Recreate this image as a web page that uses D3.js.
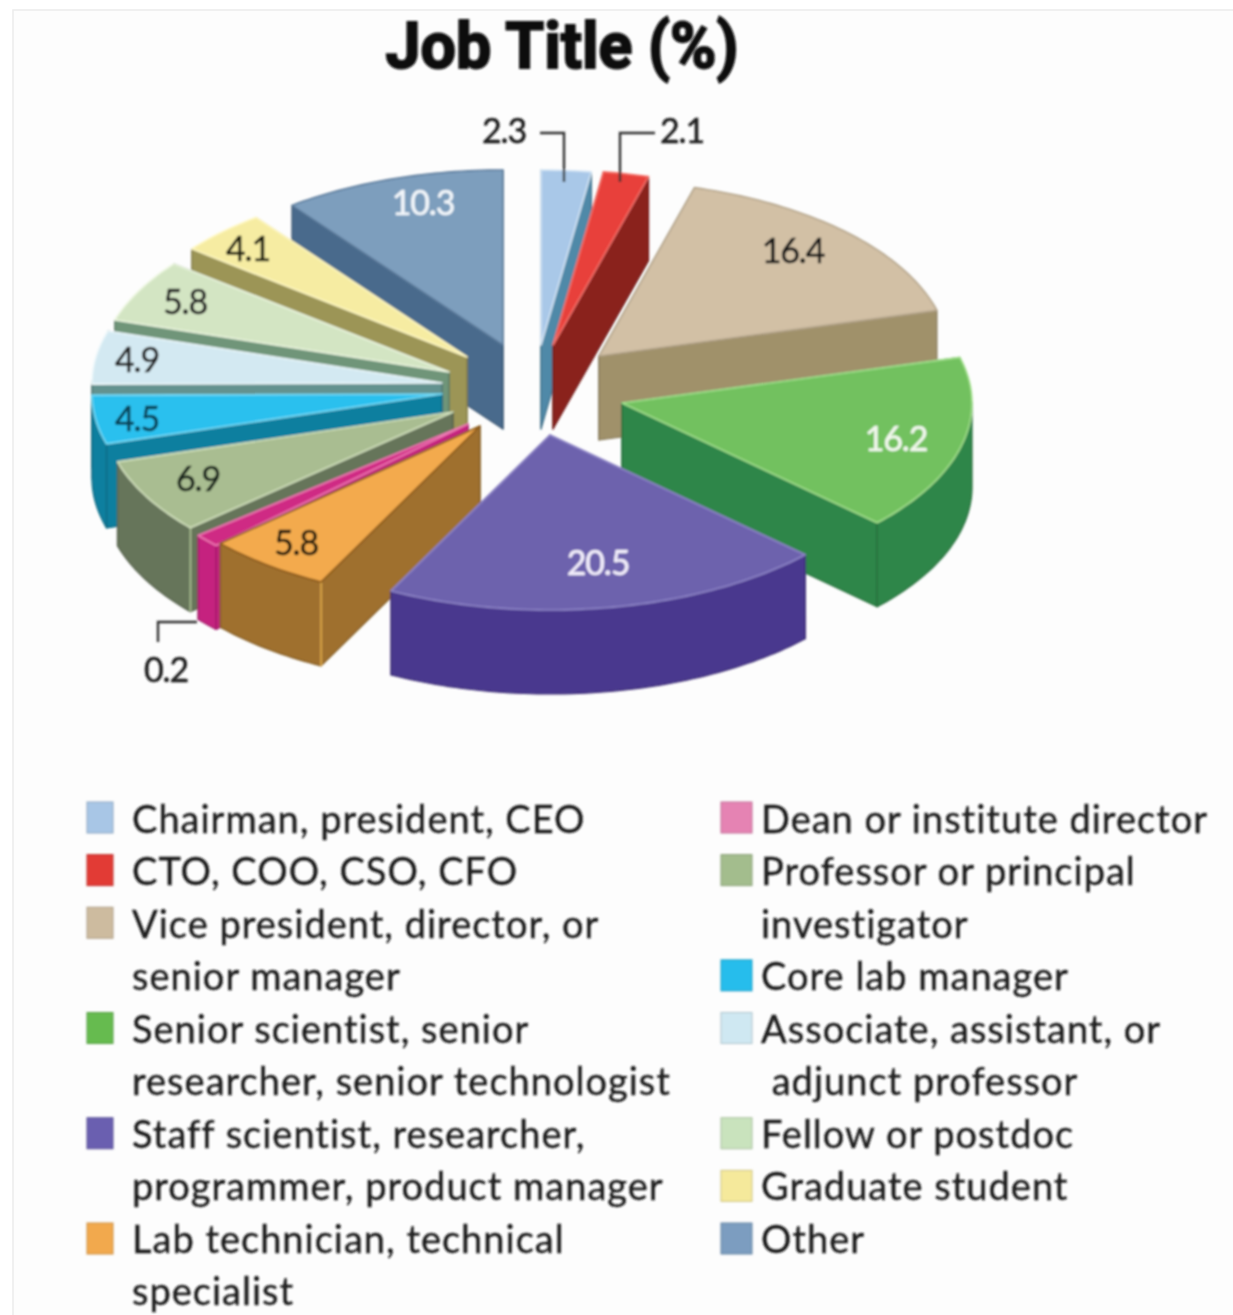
<!DOCTYPE html>
<html><head><meta charset="utf-8">
<script src="https://cdnjs.cloudflare.com/ajax/libs/d3/7.9.0/d3.min.js"></script>
<style>html,body{margin:0;padding:0;background:#fff}svg{display:block}</style>
</head><body><svg id="c" width="1233" height="1315"></svg>
<script>
const titleText = "Job Title (%)";
const categories = [
  ["Chairman, president, CEO"],
  ["CTO, COO, CSO, CFO"],
  ["Vice president, director, or","senior manager"],
  ["Senior scientist, senior","researcher, senior technologist"],
  ["Staff scientist, researcher,","programmer, product manager"],
  ["Lab technician, technical","specialist"],
  ["Dean or institute director"],
  ["Professor or principal","investigator"],
  ["Core lab manager"],
  ["Associate, assistant, or","\u00a0adjunct professor"],
  ["Fellow or postdoc"],
  ["Graduate student"],
  ["Other"]
];
const values = [2.3,2.1,16.4,16.2,20.5,5.8,0.2,6.9,4.5,4.9,5.8,4.1,10.3];
const topColors  = ["#a9c8e8","#e8413a","#d2c0a5","#72c15f","#6d62ad","#f3aa4d","#cf2a84","#a9bd91","#2cc0ee","#d3e9f2","#d3e5c3","#f6eca2","#7d9ebd"];
const sideColors = ["#4f89a8","#8a201c","#a0916a","#2f8648","#4a398e","#9f702d","#c5217f","#66755a","#0b7f9f","#64928f","#6f9579","#9c9556","#4a6a8c"];
const edgeColors = ["#d6e6f5","#f4716a","#b5a68d","#a4e08f","#8f86c8","#8d5a1c","#f07ab5","#d3e2bf","#7adcf6","#eef8fb","#eef7e2","#fff8c4","#5d7c9c"];
const swatchColors = ["#a8c6e6","#e23a36","#cdbb9f","#66bb50","#6a5fb0","#f2a94e","#e583b3","#a3bd8d","#27bdec","#cfe8f2","#c9e3bd","#f5e99b","#7b9dc0"];
const labelFill = ["#1c1c1c","#1c1c1c","#141414","#f2f8ee","#f2eefb","#241a0c","#1c1c1c","#18241a","#0b4257","#222","#222","#1c1c0c","#f2f6fa"];

// layout: where each wedge is pulled to, and its label relative to that point
const explodeX = [541,553,599,622,550,480,468,453,442,442,449,467,503];
const explodeY = [345,345,356,403,435,426,424,412,394,383,372,357,345];
const labelDX  = [-37,129,194,274,48,-184,-302,-255,-305,-305,-264,-219,-80];
const labelDY  = [-214,-214,-105,36,128,117,246,67,25,-23,-70,-108,-142];
const leaders  = {0:[[-1,-212],[23,-212],[23,-163]],1:[[102,-212],[67,-212],[67,-163]],6:[[-271,198],[-310,198],[-310,218]]};
const litCorners = [5,7];
const RX = 350, RY = 175, DEPTH = 84, MIN_SPAN = 4.4*Math.PI/180;

const svg = d3.select("#c");
const defs = svg.append("defs");
defs.append("filter").attr("id","soft").attr("filterUnits","userSpaceOnUse").attr("x",0).attr("y",0).attr("width",1233).attr("height",1315)
  .append("feGaussianBlur").attr("stdDeviation",0.9);

svg.append("rect").attr("width",1233).attr("height",1315).attr("fill","#fff");
svg.append("rect").attr("x",13).attr("y",10).attr("width",1240).attr("height",1330).attr("fill","#fdfdfd").attr("stroke","#ececec").attr("stroke-width",1.5);

const root = svg.append("g").attr("filter","url(#soft)");
const ux = d3.scaleLinear().domain([-1,1]).range([-RX,RX]);
const uy = d3.scaleLinear().domain([-1,1]).range([-RY,RY]);
const line = d3.line();

const arcs = d3.pie().sort(null)(values);
const slices = arcs.map(a=>{
  const i=a.index, mid=(a.startAngle+a.endAngle)/2;
  const half=Math.max((a.endAngle-a.startAngle)/2,MIN_SPAN/2);
  const a0=mid-half, a1=mid+half;
  const ax=explodeX[i], ay=explodeY[i];
  const pt=t=>[ax+ux(Math.sin(t)),ay+uy(-Math.cos(t))];
  const n=Math.max(2,Math.ceil((a1-a0)/0.02));
  const angles=d3.range(n+1).map(k=>a0+(a1-a0)*k/n);
  return {i,mid,a0,a1,ax,ay,pt,rim:angles.map(pt),front:angles.filter(t=>Math.cos(t)<=0.02).map(pt),order:pt(mid)[1]};
}).sort((p,q)=>d3.ascending(p.order,q.order));

const down=p=>[p[0],p[1]+DEPTH];
slices.forEach(s=>{
  const g=root.append("g");
  const c0=s.rim[0], c1=s.rim[s.rim.length-1], apex=[s.ax,s.ay];
  const onLeft=Math.sin(s.mid)<0;
  const hiddenEnd=onLeft?c1:c0, shownEnd=onLeft?c0:c1;
  const side=(pts)=>g.append("path").attr("d",line(pts)+"Z").attr("fill",sideColors[s.i])
    .attr("stroke",d3.color(sideColors[s.i]).darker(0.6)).attr("stroke-width",1.2).attr("stroke-linejoin","round");
  side([apex,hiddenEnd,down(hiddenEnd),down(apex)]);
  side([apex,shownEnd,down(shownEnd),down(apex)]);
  if(s.front.length>1) side(s.front.concat(s.front.slice().reverse().map(down)));
  if(litCorners.includes(s.i)){
    g.append("path").attr("d",line([shownEnd,down(shownEnd)])).attr("stroke",d3.color(topColors[s.i]).brighter(0.4)).attr("stroke-width",1.5).attr("opacity",0.85);
  }
  g.append("path").attr("d",line([apex].concat(s.rim))+"Z").attr("fill",topColors[s.i])
    .attr("stroke",edgeColors[s.i]).attr("stroke-width",1.6).attr("stroke-linejoin","round");
});

// leaders and value labels
const fmt=d3.format(".1f");
arcs.forEach(a=>{
  const i=a.index, ax=explodeX[i], ay=explodeY[i];
  if(leaders[i]) root.append("path")
    .attr("d",line(leaders[i].map(d=>[ax+d[0],ay+d[1]]))).attr("fill","none").attr("stroke","#333").attr("stroke-width",2.4);
  root.append("text").attr("x",ax+labelDX[i]).attr("y",ay+labelDY[i]).attr("dy","0.36em")
    .attr("text-anchor","middle").attr("font-family","Lato, sans-serif").attr("font-size",34)
    .attr("letter-spacing",-1.2).attr("fill",labelFill[i]).attr("stroke",labelFill[i]).attr("stroke-width",0.5).text(fmt(a.value));
});

root.append("text").attr("x",562).attr("y",68).attr("text-anchor","middle")
  .attr("font-family","'Liberation Sans Narrow','Roboto',sans-serif").attr("font-weight",700).attr("font-size",64)
  .attr("fill","#0c0c0c").attr("stroke","#0c0c0c").attr("stroke-width",2)
  .attr("textLength",353).attr("lengthAdjust","spacingAndGlyphs").text(titleText);

// legend
const lineY=d3.scaleLinear().domain([0,9]).range([833,1305]);
const swatchY=d3.scaleLinear().domain([0,8]).range([802,1223]);
const columns=[{from:0,to:6,sx:87,sw:26,tx:132},{from:6,to:13,sx:721,sw:31,tx:761}];
columns.forEach(col=>{
  let ln=0;
  d3.range(col.from,col.to).forEach(i=>{
    root.append("rect").attr("x",col.sx).attr("y",swatchY(ln)).attr("width",col.sw).attr("height",31)
      .attr("fill",swatchColors[i]).attr("stroke",d3.color(swatchColors[i]).darker(0.5)).attr("stroke-width",1);
    categories[i].forEach(t=>{
      root.append("text").attr("x",col.tx).attr("y",lineY(ln)).attr("font-family","Lato, sans-serif")
        .attr("font-size",38).attr("letter-spacing",1).attr("fill","#1a1a1a").attr("stroke","#1a1a1a").attr("stroke-width",0.3).text(t);
      ln++;
    });
  });
});
</script></body></html>
